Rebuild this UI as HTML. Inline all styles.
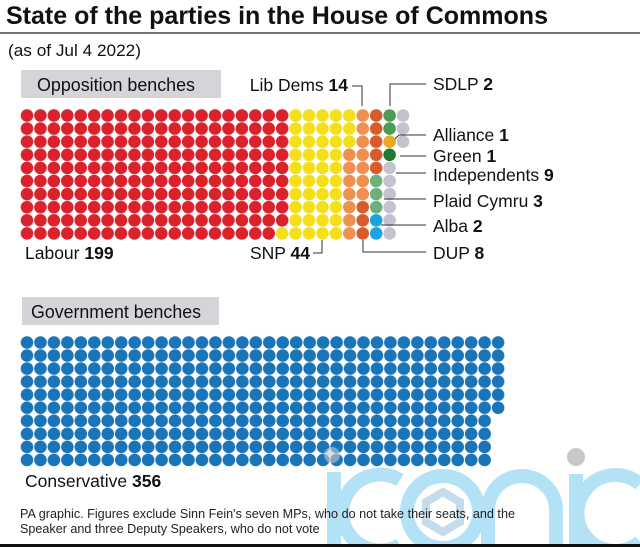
<!DOCTYPE html>
<html><head><meta charset="utf-8"><style>
html,body{margin:0;padding:0;background:#fff;}
svg{display:block;font-family:"Liberation Sans",sans-serif;}
</style></head><body>
<svg width="640" height="547" viewBox="0 0 640 547" xmlns="http://www.w3.org/2000/svg">
<defs>
<pattern id="pR" patternUnits="userSpaceOnUse" x="20.285" y="108.95" width="13.43" height="13.1"><circle cx="6.715" cy="6.55" r="6.3" fill="#d9222b"/></pattern>
<pattern id="pY" patternUnits="userSpaceOnUse" x="20.285" y="108.95" width="13.43" height="13.1"><circle cx="6.715" cy="6.55" r="6.3" fill="#f4df1c"/></pattern>
<pattern id="pO" patternUnits="userSpaceOnUse" x="20.285" y="108.95" width="13.43" height="13.1"><circle cx="6.715" cy="6.55" r="6.3" fill="#ee9050"/></pattern>
<pattern id="pD" patternUnits="userSpaceOnUse" x="20.285" y="108.95" width="13.43" height="13.1"><circle cx="6.715" cy="6.55" r="6.3" fill="#d85b2b"/></pattern>
<pattern id="pP" patternUnits="userSpaceOnUse" x="20.285" y="108.95" width="13.43" height="13.1"><circle cx="6.715" cy="6.55" r="6.3" fill="#6cb07c"/></pattern>
<pattern id="pA" patternUnits="userSpaceOnUse" x="20.285" y="108.95" width="13.43" height="13.1"><circle cx="6.715" cy="6.55" r="6.3" fill="#1ba3e2"/></pattern>
<pattern id="pB" patternUnits="userSpaceOnUse" x="20.27" y="335.975" width="13.46" height="13.05"><circle cx="6.73" cy="6.525" r="6.3" fill="#1a74b8"/></pattern>
</defs>
<!-- watermark -->
<g fill="none" stroke="#b3e2f6" stroke-width="14">
<line x1="334" y1="472" x2="334" y2="547"/>
<path d="M 400 480 A 38 38 0 1 0 400 545"/>
<circle cx="443" cy="512" r="36"/>
<path d="M 488 547 L 488 510 A 34 34 0 0 1 556 510 L 556 547"/>
<line x1="576" y1="474" x2="576" y2="547"/>
<path d="M 640 484 A 38 38 0 1 0 640 542"/>
</g>
<polygon points="443,492 460,502 460,522 443,532 426,522 426,502" fill="none" stroke="#c5dcec" stroke-width="8"/>
<circle cx="576" cy="457" r="9" fill="#c8c8c8"/>

<text x="6" y="24" font-size="25" font-weight="bold" fill="#111" textLength="542" lengthAdjust="spacingAndGlyphs">State of the parties in the House of Commons</text>
<line x1="0" y1="33" x2="640" y2="33" stroke="#222" stroke-width="1.3"/>
<text x="8" y="56" font-size="16.5" fill="#111" textLength="133" lengthAdjust="spacingAndGlyphs">(as of Jul 4 2022)</text>

<rect x="21" y="70" width="200" height="28" fill="#d5d5d9"/>
<text x="37" y="91" font-size="18" fill="#111" textLength="158" lengthAdjust="spacingAndGlyphs">Opposition benches</text>
<rect x="22" y="297" width="197" height="28" fill="#d5d5d9"/>
<text x="31" y="318" font-size="18" fill="#111" textLength="170" lengthAdjust="spacingAndGlyphs">Government benches</text>

<!-- opposition dots -->
<rect x="20.285" y="108.95" width="255.17" height="131" fill="url(#pR)"/>
<rect x="275.455" y="108.95" width="13.43" height="117.9" fill="url(#pR)"/>
<rect x="275.455" y="226.85" width="13.43" height="13.1" fill="url(#pY)"/>
<rect x="288.885" y="108.95" width="53.72" height="131" fill="url(#pY)"/>
<rect x="342.605" y="108.95" width="13.43" height="39.3" fill="url(#pY)"/>
<rect x="342.605" y="148.25" width="13.43" height="91.7" fill="url(#pO)"/>
<rect x="356.035" y="108.95" width="13.43" height="91.7" fill="url(#pO)"/>
<rect x="356.035" y="200.65" width="13.43" height="39.3" fill="url(#pD)"/>
<rect x="369.465" y="108.95" width="13.43" height="65.5" fill="url(#pD)"/>
<rect x="369.465" y="174.45" width="13.43" height="39.3" fill="url(#pP)"/>
<rect x="369.465" y="213.75" width="13.43" height="26.2" fill="url(#pA)"/>
<g>
<circle cx="389.61" cy="115.5" r="6.3" fill="#4a9d52"/>
<circle cx="389.61" cy="128.6" r="6.3" fill="#4a9d52"/>
<circle cx="389.61" cy="141.7" r="6.3" fill="#e9a922"/>
<circle cx="389.61" cy="154.8" r="6.3" fill="#1e7a32"/>
<circle cx="389.61" cy="167.9" r="6.3" fill="#c3c3cf"/>
<circle cx="389.61" cy="181" r="6.3" fill="#c3c3cf"/>
<circle cx="389.61" cy="194.1" r="6.3" fill="#c3c3cf"/>
<circle cx="389.61" cy="207.2" r="6.3" fill="#c3c3cf"/>
<circle cx="389.61" cy="220.3" r="6.3" fill="#c3c3cf"/>
<circle cx="389.61" cy="233.4" r="6.3" fill="#c3c3cf"/>
<circle cx="403.04" cy="115.5" r="6.3" fill="#c3c3cf"/>
<circle cx="403.04" cy="128.6" r="6.3" fill="#c3c3cf"/>
<circle cx="403.04" cy="141.7" r="6.3" fill="#c3c3cf"/>
</g>
<!-- government dots -->
<rect x="20.27" y="335.975" width="471.1" height="130.5" fill="url(#pB)"/>
<rect x="491.37" y="335.975" width="13.46" height="78.3" fill="url(#pB)"/>
<circle cx="332" cy="455" r="8" fill="#c8c8c8" opacity="0.6"/>

<g stroke="#333" stroke-width="1" fill="none">
<path d="M352 86 H362 V106"/>
<path d="M390 106 V84 H426"/>
<path d="M395 139 L399 135 H426"/>
<path d="M400 156 H426"/>
<path d="M396 173 H426"/>
<path d="M384 199 H426"/>
<path d="M381 225 H426"/>
<path d="M363 240 V252 H426"/>
<path d="M313 253 H322 V240"/>
</g>
<g font-size="17.5" fill="#111">
<text x="348" y="91" text-anchor="end">Lib Dems <tspan font-weight="bold">14</tspan></text>
<text x="433" y="90">SDLP <tspan font-weight="bold">2</tspan></text>
<text x="433" y="141">Alliance <tspan font-weight="bold">1</tspan></text>
<text x="433" y="162">Green <tspan font-weight="bold">1</tspan></text>
<text x="433" y="181">Independents <tspan font-weight="bold">9</tspan></text>
<text x="433" y="207">Plaid Cymru <tspan font-weight="bold">3</tspan></text>
<text x="433" y="232">Alba <tspan font-weight="bold">2</tspan></text>
<text x="433" y="259">DUP <tspan font-weight="bold">8</tspan></text>
<text x="310" y="259" text-anchor="end">SNP <tspan font-weight="bold">44</tspan></text>
<text x="25" y="259">Labour <tspan font-weight="bold">199</tspan></text>
<text x="25" y="487">Conservative <tspan font-weight="bold">356</tspan></text>
</g>
<g font-size="12.6" fill="#222">
<text x="20" y="518" textLength="495" lengthAdjust="spacingAndGlyphs">PA graphic. Figures exclude Sinn Fein's seven MPs, who do not take their seats, and the</text>
<text x="20" y="533">Speaker and three Deputy Speakers, who do not vote</text>
</g>
<rect x="0" y="544" width="640" height="3" fill="#111"/>
</svg>
</body></html>
